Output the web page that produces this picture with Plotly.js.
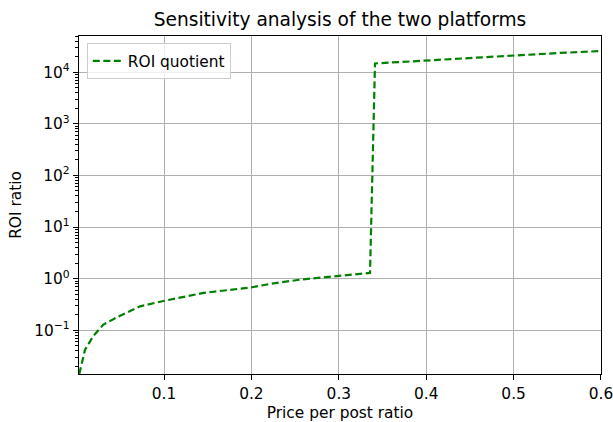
<!DOCTYPE html>
<html>
<head>
<meta charset="utf-8">
<script src="https://cdn.plot.ly/plotly-3.0.1.min.js"></script>
<style>html,body{margin:0;padding:0;background:#fff;}#chart{width:613px;height:422px;}</style>
</head>
<body>
<div id="chart"></div>
<script>
// Price per post ratio (x) and ROI quotient (y)
const priceRatio = [0.003, 0.0096, 0.019, 0.0306, 0.0497, 0.0725, 0.101, 0.145, 0.200, 0.221, 0.2556, 0.300, 0.3357, 0.3414, 0.393, 0.450, 0.500, 0.550, 0.600];
const roiQuotient = [0.0142, 0.042, 0.077, 0.129, 0.192, 0.291, 0.375, 0.529, 0.679, 0.79, 0.957, 1.11, 1.29, 14800, 16600, 19000, 21400, 23500, 25700];
const xTickVals = [0.1, 0.2, 0.3, 0.4, 0.5, 0.6];
const xTickText = ['0.1', '0.2', '0.3', '0.4', '0.5', '0.6'];
const yTickVals = [0.1, 1, 10, 100, 1000, 10000];
const yTickText = ['10<sup>−1</sup>', '10<sup>0</sup>', '10<sup>1</sup>', '10<sup>2</sup>', '10<sup>3</sup>', '10<sup>4</sup>'];
const seriesName = 'ROI quotient';

// minor tick positions for the log axis (2..9 per decade)
const yMinor = [];
for (let e = -2; e <= 4; e++) for (let m = 2; m <= 9; m++) yMinor.push(m * Math.pow(10, e));

const font = {family: 'DejaVu Sans, sans-serif', color: '#000'};
const fs = 15.4;
const yRange = [-1.847, 4.702];

Plotly.newPlot('chart', [{
  x: priceRatio,
  y: roiQuotient,
  type: 'scatter',
  mode: 'lines',
  name: seriesName,
  line: {color: '#008000', width: 2.2, dash: '7px,3.5px'}
}, {
  // invisible copy so the minor-tick axis is drawn
  x: priceRatio, y: roiQuotient, yaxis: 'y2', type: 'scatter', mode: 'lines',
  line: {color: 'rgba(0,0,0,0)', width: 0}, showlegend: false, hoverinfo: 'skip'
}], {
  width: 613, height: 422,
  margin: {l: 79, r: 12, t: 36, b: 47.5},
  paper_bgcolor: '#fff', plot_bgcolor: '#fff',
  font: Object.assign({size: fs}, font),
  title: {text: 'Sensitivity analysis of the two platforms', font: Object.assign({size: 18.6}, font), x: 0.5, xref: 'paper', y: 0.955, yanchor: 'middle'},
  showlegend: true,
  legend: {x: 0.015, y: 0.978, xanchor: 'left', yanchor: 'top', bgcolor: 'rgba(255,255,255,0.8)', bordercolor: '#cccccc', borderwidth: 1, font: Object.assign({size: fs}, font), itemwidth: 30, tracegroupgap: 0},
  xaxis: {
    range: [0.0027, 0.60001], tickvals: xTickVals, ticktext: xTickText,
    showgrid: true, gridcolor: '#b0b0b0', gridwidth: 1,
    showline: true, linecolor: '#000', linewidth: 1.2, mirror: true,
    ticks: 'outside', ticklen: 5, tickcolor: '#000', zeroline: false,
    ticklabeloverflow: 'allow',
    tickfont: Object.assign({size: fs}, font),
    title: {text: 'Price per post ratio', font: Object.assign({size: fs}, font), standoff: 5}
  },
  yaxis: {
    type: 'log', range: yRange, tickvals: yTickVals, ticktext: yTickText,
    showgrid: true, gridcolor: '#b0b0b0', gridwidth: 1,
    showline: true, linecolor: '#000', linewidth: 1.2, mirror: true,
    ticks: 'outside', ticklen: 5, tickcolor: '#000', zeroline: false,
    tickfont: Object.assign({size: fs}, font),
    title: {text: 'ROI ratio', font: Object.assign({size: fs}, font), standoff: 8}
  },
  yaxis2: {
    type: 'log', range: yRange, overlaying: 'y', side: 'left',
    tickmode: 'array', tickvals: yMinor, showticklabels: false,
    ticks: 'outside', ticklen: 3, tickwidth: 1, tickcolor: '#000',
    showgrid: false, zeroline: false, showline: false
  }
}, {displayModeBar: false, staticPlot: true});
</script>
</body>
</html>
